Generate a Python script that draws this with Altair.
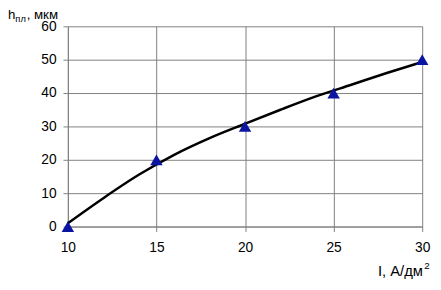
import altair as alt
import pandas as pd

# measured points
pts_x = [10, 15, 20, 25, 30]
pts_y = [0, 20, 30, 40, 50]

# smooth trend curve
curve_x = [10, 12, 14, 16, 18, 20, 22, 24, 26, 28, 30]
curve_y = [1.0, 8.5, 15.5, 21.5, 26.5, 30.8, 35.0, 39.0, 42.5, 46.0, 49.3]

x_ticks = [10, 15, 20, 25, 30]
y_ticks = [0, 10, 20, 30, 40, 50, 60]

pts = pd.DataFrame({"x": pts_x, "y": pts_y})
curve = pd.DataFrame({"x": curve_x, "y": curve_y})

FONT = "Liberation Sans"

xs = alt.Scale(domain=[10, 30], nice=False)
ys = alt.Scale(domain=[0, 60], nice=False)

xax = alt.Axis(values=x_ticks, title=None, grid=True, gridColor="#808080",
               gridWidth=1, domainColor="#808080", tickColor="#808080",
               tickSize=5, labelPadding=9, labelFont=FONT, labelFontSize=14,
               labelColor="black", labelFlush=False, labelOverlap=False)
yax = alt.Axis(values=y_ticks, title=None, grid=True, gridColor="#808080",
               gridWidth=1, domainColor="#808080", tickColor="#808080",
               tickSize=5, labelPadding=7, labelFont=FONT, labelFontSize=14,
               labelColor="black", labelOverlap=False)

line = alt.Chart(curve).mark_line(color="black", strokeWidth=2.5, interpolate="monotone").encode(
    x=alt.X("x:Q", scale=xs, axis=xax),
    y=alt.Y("y:Q", scale=ys, axis=yax),
)

points = alt.Chart(pts).mark_point(shape="triangle-up", filled=True, color="#0A14A0",
                                   size=160, opacity=1).encode(
    x=alt.X("x:Q", scale=xs, axis=xax),
    y=alt.Y("y:Q", scale=ys, axis=yax),
)

def txt(s, x, y, size=14, align="left"):
    return alt.Chart(pd.DataFrame({"t": [s]})).mark_text(
        text=s, font=FONT, fontSize=size, align=align, baseline="alphabetic", color="black"
    ).encode(x=alt.value(x), y=alt.value(y))

titles = [
    txt("h", -61, -7.5, 13.5),
    txt("пл", -53.5, -4.5, 9.5),
    txt(", мкм", -42, -7.5, 13.5),
    txt("I, А/дм", 316, 254, 15),
    txt("2", 363, 247, 10),
]

chart = alt.layer(line, points, *titles).properties(
    width=361, height=204,
    padding={"left": 61, "top": 16, "right": 11, "bottom": 62},
    autosize="none",
).configure_view(stroke=None)

chart.save("out.html", embed_options={"renderer": "svg", "actions": False})
